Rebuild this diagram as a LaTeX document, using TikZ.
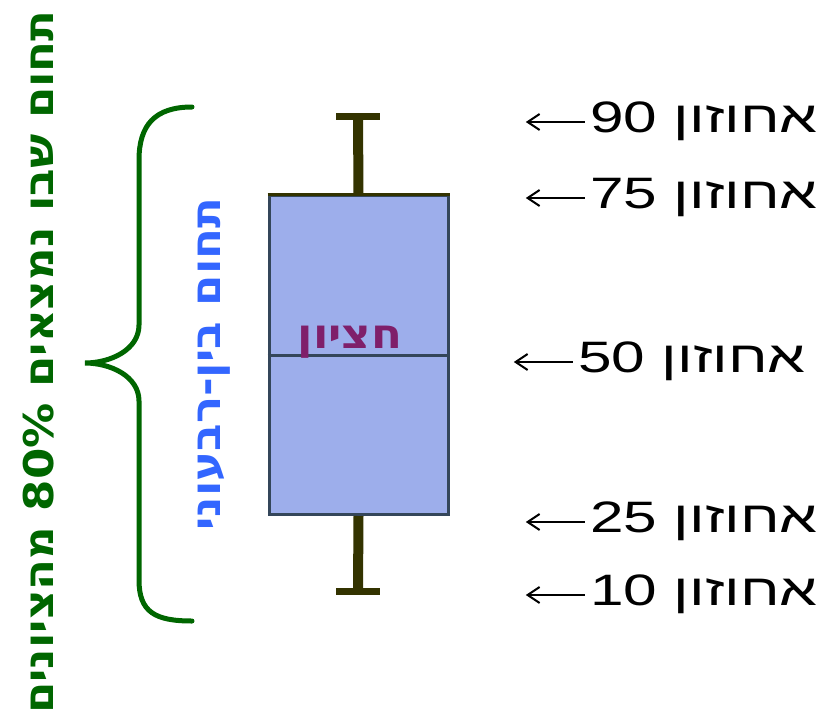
\documentclass[tikz,border=0pt]{standalone}
\usepackage{fontspec}
\usetikzlibrary{arrows.meta}
\TeXXeTstate=1
\newfontfamily\hebfont[Script=Hebrew, FakeStretch=1.37]{Liberation Sans}
\newfontfamily\hebbold[Script=Hebrew, FakeStretch=1.1]{DejaVu Sans}
\definecolor{boxfill}{HTML}{9DAEEB}
\definecolor{boxline}{HTML}{34465A}
\definecolor{whiskercol}{HTML}{333300}
\definecolor{bracegreen}{HTML}{006600}
\definecolor{iqrblue}{HTML}{3366FF}
\definecolor{medpurple}{HTML}{7F1F6A}
\tikzset{
  pctlabel/.style={anchor=base east, inner sep=0pt, font=\hebfont\fontsize{44}{48}\selectfont},
  pctarrow/.style={line width=2pt, -{Straight Barb[length=12pt, width=16pt, line width=2pt]}},
  boldheb/.style={inner sep=0pt, font=\hebbold\bfseries\fontsize{41}{44}\selectfont}
}
\newcommand{\pcttext}[1]{#1 \beginR אחוזון\endR}

\begin{document}
\begin{tikzpicture}[x=1pt, y=-1pt]
\useasboundingbox (0,0) rectangle (823,721);
% Box
\node[draw=boxline, fill=boxfill, line width=3pt, minimum width=179, minimum height=319, inner sep=0pt] (iqr) at (358.5,355) {};
\draw[boxline, line width=3pt] (iqr.west) -- (iqr.east);
\draw[whiskercol, line width=3pt] (iqr.north west) -- (iqr.north east);
% Whiskers
\coordinate (hi) at (358,116);
\coordinate (lo) at (358,591);
\draw[whiskercol, line width=10pt] (iqr.north) -- (hi);
\draw[whiskercol, line width=10pt] (iqr.south) -- (lo);
\draw[whiskercol, line width=7pt] ([xshift=-22]hi) -- ([xshift=22]hi);
\draw[whiskercol, line width=7pt] ([xshift=-22]lo) -- ([xshift=22]lo);
% Brace
\draw[bracegreen, line width=5pt, line cap=round] (192,107) .. controls (155,107) and (139,125) .. (139,160)
  -- (139,325) .. controls (139,350) and (110,363) .. (85,363)
  .. controls (110,363) and (139,376) .. (139,401) -- (139,580)
  .. controls (139,612) and (155,621) .. (192,621);
% Nodes
\node[boldheb, medpurple, anchor=base] (median) at (350,348) {\beginR חציון\endR};
\node[boldheb, iqrblue, rotate=90, anchor=base] (iqrtext) at (220,364) {\beginR תחום בין-רבעוני\endR};
\node[boldheb, bracegreen, rotate=90, anchor=base] (rangetext) at (53,362) {\beginR תחום שבו נמצאים \beginL 80\%\endL{} מהציונים\endR};
\node[pctlabel] (p90) at (818,132) {\pcttext{90}};
\node[pctlabel] (p75) at (818,208) {\pcttext{75}};
\node[pctlabel] (p50) at (806,372) {\pcttext{50}};
\node[pctlabel] (p25) at (818,532) {\pcttext{25}};
\node[pctlabel] (p10) at (818,605) {\pcttext{10}};
% Arrows
\foreach \p in {p90,p75,p50,p25,p10} {
  \coordinate (\p tip) at ([xshift=-64, yshift=10]\p.base west);
  \draw[pctarrow] ([xshift=-5, yshift=10]\p.base west) -- (\p tip);
}
\end{tikzpicture}
\end{document}
